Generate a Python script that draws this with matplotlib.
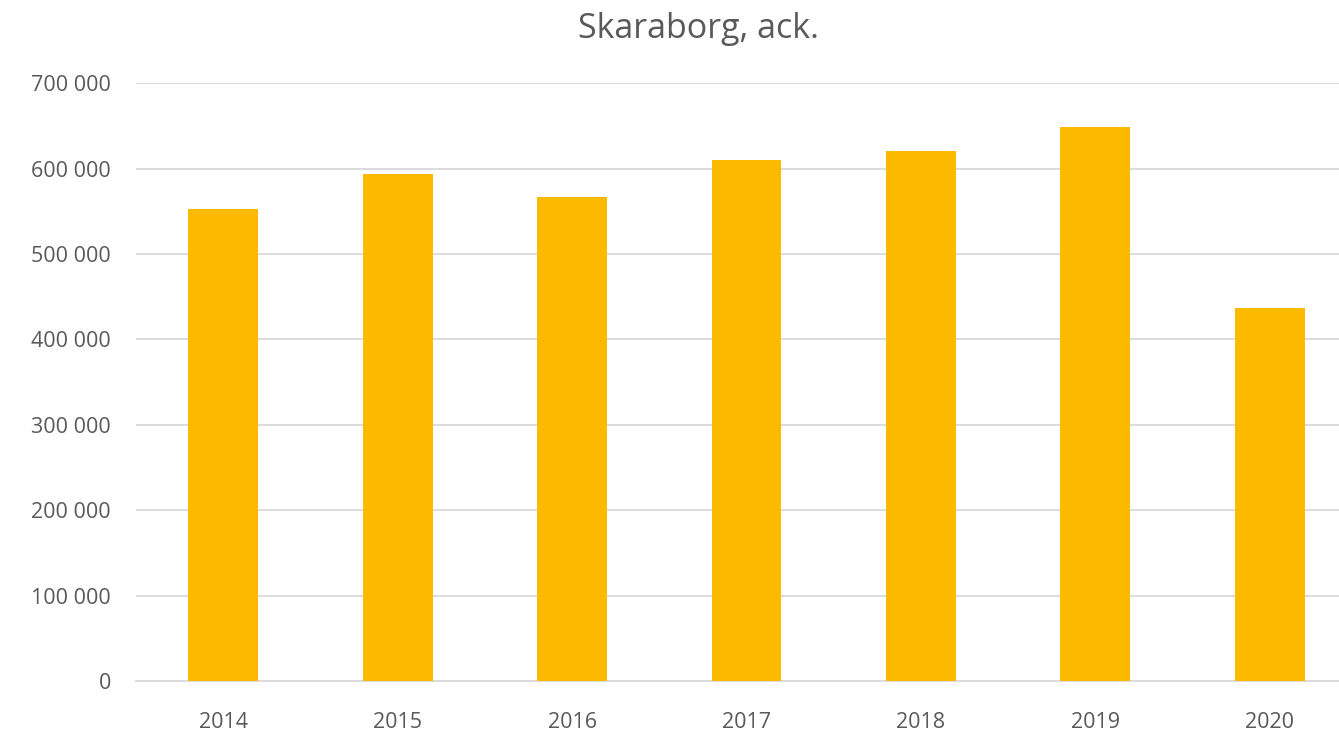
import matplotlib.pyplot as plt
from matplotlib.ticker import FuncFormatter

# data
years = ['2014', '2015', '2016', '2017', '2018', '2019', '2020']
values = [553000, 594000, 567000, 610000, 620500, 648500, 437000]

bar_color = '#FBBA00'
text_color = '#595959'
grid_color = '#D9D9D9'

plt.rcParams['font.family'] = ['Open Sans', 'DejaVu Sans']

fig = plt.figure(figsize=(13.39, 7.31), dpi=100)
# axes runs past the right edge, as in the reference (clipped chart)
ax = fig.add_axes([136 / 1339, 1 - 681 / 731, (1357 - 136) / 1339, (681 - 83.3) / 731])

x = range(len(years))
ax.bar(x, values, width=0.4, color=bar_color, zorder=3)

ax.set_xlim(-0.5, len(years) - 0.5)
ax.set_ylim(0, 700000)
ax.set_yticks(range(0, 700001, 100000))
ax.yaxis.set_major_formatter(FuncFormatter(lambda v, p: f'{int(v):,}'.replace(',', ' ')))
ax.set_xticks(list(x))
ax.set_xticklabels(years)

ax.grid(axis='y', color=grid_color, linewidth=1.3, zorder=0)
for s in ['top', 'right', 'left']:
    ax.spines[s].set_visible(False)
ax.spines['bottom'].set_color(grid_color)
ax.spines['bottom'].set_linewidth(1.3)
ax.tick_params(axis='both', length=0, colors=text_color, labelsize=15.5)
ax.tick_params(axis='x', pad=22)
ax.tick_params(axis='y', pad=18)

fig.text(0.522, 0.96, 'Skaraborg, ack.', ha='center', va='center',
         fontsize=24.5, color=text_color)

fig.savefig('out.png', dpi=100)
